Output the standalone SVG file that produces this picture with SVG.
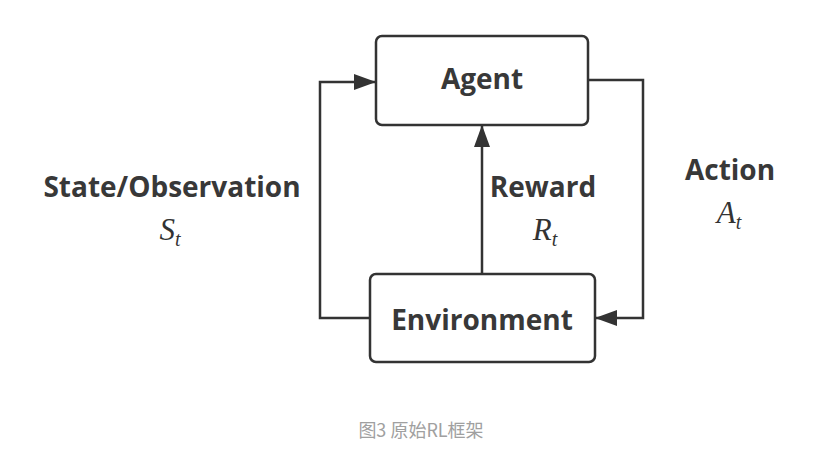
<svg xmlns="http://www.w3.org/2000/svg" width="817" height="464" viewBox="0 0 817 464">
<style>
.box{fill:#fff;stroke:#333;stroke-width:2.5}
.lbl{font-family:"Open Sans","Noto Sans",sans-serif;font-weight:bold;font-size:28px;fill:#383838;text-anchor:middle}
.math{font-family:"Liberation Serif","DejaVu Serif",serif;font-style:italic;font-size:31px;fill:#333;text-anchor:middle}
.sub{font-size:20px}
.conn{fill:none;stroke:#333;stroke-width:2.5}
.cap{font-family:"Noto Sans CJK SC","Noto Sans",sans-serif;font-size:18px;fill:#a0a0a0;text-anchor:middle}
</style>
<defs>
<marker id="arr" viewBox="0 0 22 16" refX="21" refY="8" markerWidth="22" markerHeight="16" markerUnits="userSpaceOnUse" orient="auto">
<path d="M0,0 L22,8 L0,16 Z" fill="#333"/>
</marker>
</defs>
<rect width="817" height="464" fill="#fff"/>
<g id="connectors">
<polyline class="conn" points="370,318 320,318 320,82 375,82" marker-end="url(#arr)"/>
<polyline class="conn" points="589,80 643,80 643,318 596,318" marker-end="url(#arr)"/>
<line class="conn" x1="482" y1="274" x2="482" y2="126" marker-end="url(#arr)"/>
</g>
<g id="agent">
<rect class="box" x="376" y="36" width="212" height="89" rx="6"/>
<text class="lbl" x="482" y="89">Agent</text>
</g>
<g id="environment">
<rect class="box" x="370" y="274" width="225" height="88" rx="6"/>
<text class="lbl" x="482" y="330">Environment</text>
</g>
<g id="label-state">
<text class="lbl" x="172" y="197">State/Observation</text>
<text class="math" x="170" y="240">S<tspan class="sub" dy="6">t</tspan></text>
</g>
<g id="label-reward">
<text class="lbl" x="543" y="197">Reward</text>
<text class="math" x="545" y="240">R<tspan class="sub" dy="6">t</tspan></text>
</g>
<g id="label-action">
<text class="lbl" x="730" y="180">Action</text>
<text class="math" x="729" y="223">A<tspan class="sub" dy="6">t</tspan></text>
</g>
<text class="cap" x="421" y="437">图3 原始RL框架</text>
</svg>
